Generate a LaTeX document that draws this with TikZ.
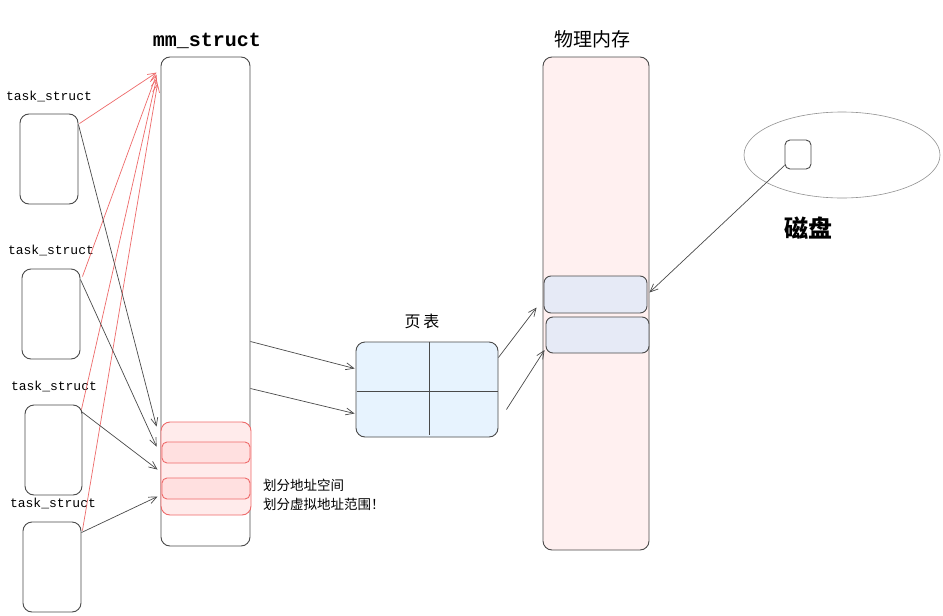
\documentclass[tikz,border=0pt]{standalone}
\usepackage{fontspec}
\setmainfont{Liberation Sans}
\newfontfamily\cjk{Noto Sans CJK SC}
\newfontfamily\monof{Liberation Mono}
\usetikzlibrary{arrows.meta,calc,shapes.geometric}
\definecolor{lin}{HTML}{4A4A4A}
\definecolor{redl}{HTML}{EE6A6A}
\definecolor{redf}{HTML}{FFEBEB}
\definecolor{redin}{HTML}{FFE0E0}
\definecolor{bluef}{HTML}{E7F3FE}
\definecolor{pinkf}{HTML}{FFF0F0}
\definecolor{blockf}{HTML}{E6EAF6}
\tikzset{
  box/.style={draw=lin, line width=0.9pt, rounded corners=9pt, inner sep=0pt, minimum width=#1},
  arr/.style={-{Straight Barb[length=8pt,width=7pt]}, draw=lin, line width=0.7pt},
  rarr/.style={-{Straight Barb[length=8pt,width=7pt]}, draw=redl, line width=0.7pt},
  tlabel/.style={font=\monof\fontsize{13}{15}\selectfont, inner sep=0pt},
  clabel/.style={font=\cjk\fontsize{#1}{#1}\selectfont, inner sep=0pt}
}
\begin{document}
\begin{tikzpicture}[x=1pt,y=-1pt]
\useasboundingbox (0,0) rectangle (943,616);
\fill[white] (0,0) rectangle (943,616);

% mm_struct
\node[tlabel, font=\monof\bfseries\fontsize{20}{22}\selectfont] (mmlab) at (207,41) {mm\_struct};
\node[box=89pt, minimum height=489pt] (mm) at (205.5,301.5) {};
\node[box=90pt, minimum height=93pt, draw=redl, fill=redf] (rr) at (206,468.5) {};
\node[box=88pt, minimum height=21pt, draw=redl, fill=redin, rounded corners=5pt] (ri1) at (206,452.5) {};
\node[box=88pt, minimum height=21pt, draw=redl, fill=redin, rounded corners=5pt] (ri2) at (206,488.5) {};
\node[clabel=13.5, anchor=west] (txt1) at (263,485) {划分地址空间};
\node[clabel=13.5, anchor=west] (txt2) at (263,504) {划分虚拟地址范围！};

% task_structs
\node[tlabel] (l1) at (49,96) {task\_struct};
\node[box=58pt, minimum height=90pt] (t1) at (49,159) {};
\node[tlabel] (l2) at (51,250) {task\_struct};
\node[box=58pt, minimum height=90pt] (t2) at (51,314) {};
\node[tlabel] (l3) at (54,386) {task\_struct};
\node[box=57pt, minimum height=90pt] (t3) at (53.5,450) {};
\node[tlabel] (l4) at (53,503) {task\_struct};
\node[box=58pt, minimum height=90pt] (t4) at (52,567) {};

% page table
\node[clabel=16] (ptlab) at (422,321) {页\,表};
\node[box=142pt, minimum height=95pt, fill=bluef] (pt) at (427,389.5) {};
\draw[lin, line width=0.9pt] ($(pt.north)+(2,0)$) -- ($(pt.south)+(2,-2)$);
\draw[lin, line width=0.9pt] ($(pt.west)+(1,1.5)$) -- ($(pt.east)+(0,1.5)$);

% physical memory
\node[clabel=19] (pmlab) at (592,39) {物理内存};
\node[box=106pt, minimum height=493pt, fill=pinkf] (pm) at (596,303.5) {};
\node[box=103pt, minimum height=37pt, fill=blockf, rounded corners=7pt] (b1) at (595.5,294.5) {};
\node[box=103pt, minimum height=36pt, fill=blockf, rounded corners=7pt] (b2) at (597.5,335) {};

% disk
\node[ellipse, draw=lin!60, line width=0.6pt, minimum width=196pt, minimum height=86pt, inner sep=0pt] (disk) at (842,155) {};
\node[box=26pt, minimum height=29pt, rounded corners=5pt] (sq) at (798,154.5) {};
\node[font=\cjk\bfseries\fontsize{24}{24}\selectfont, inner sep=0pt] (disklab) at (808,228) {磁盘};

% red arrows task -> mm top
\draw[rarr] ($(t1.north east)+(1,10)$) -- ($(mm.north west)+(-4,16)$);
\draw[rarr] ($(t2.north east)+(2,8)$) -- ($(mm.north west)+(-4,18)$);
\draw[rarr] ($(t3.north east)+(-1,5)$) -- ($(mm.north west)+(-4,22)$);
\draw[rarr] ($(t4.north east)+(1,9)$) -- ($(mm.north west)+(-3,27)$);

% black arrows task -> red region
\draw[arr] ($(t1.north east)+(0,11)$) -- ($(rr.north west)+(-4,5)$);
\draw[arr] ($(t2.north east)+(0,11)$) -- ($(rr.north west)+(-4,25)$);
\draw[arr] ($(t3.north east)+(-1,7)$) -- ($(rr.north west)+(-3,48)$);
\draw[arr] ($(t4.north east)+(0,11)$) -- ($(rr.north west)+(-3,75)$);

% mm -> page table
\draw[arr] ($(mm.east)+(0,40)$) -- ($(pt.west)+(-1,-21)$);
\draw[arr] ($(mm.east)+(0,87)$) -- ($(pt.west)+(-1,24)$);

% page table -> physical
\draw[arr] ($(pt.east)+(0,-32)$) -- ($(b1.west)+(-7,13)$);
\draw[arr] ($(pt.east)+(8,20)$) -- ($(b2.west)+(-1,15)$);

% disk -> memory
\draw[arr] ($(sq.south west)+(0,-4)$) -- ($(b1.east)+(2,-2)$);
\end{tikzpicture}
\end{document}
